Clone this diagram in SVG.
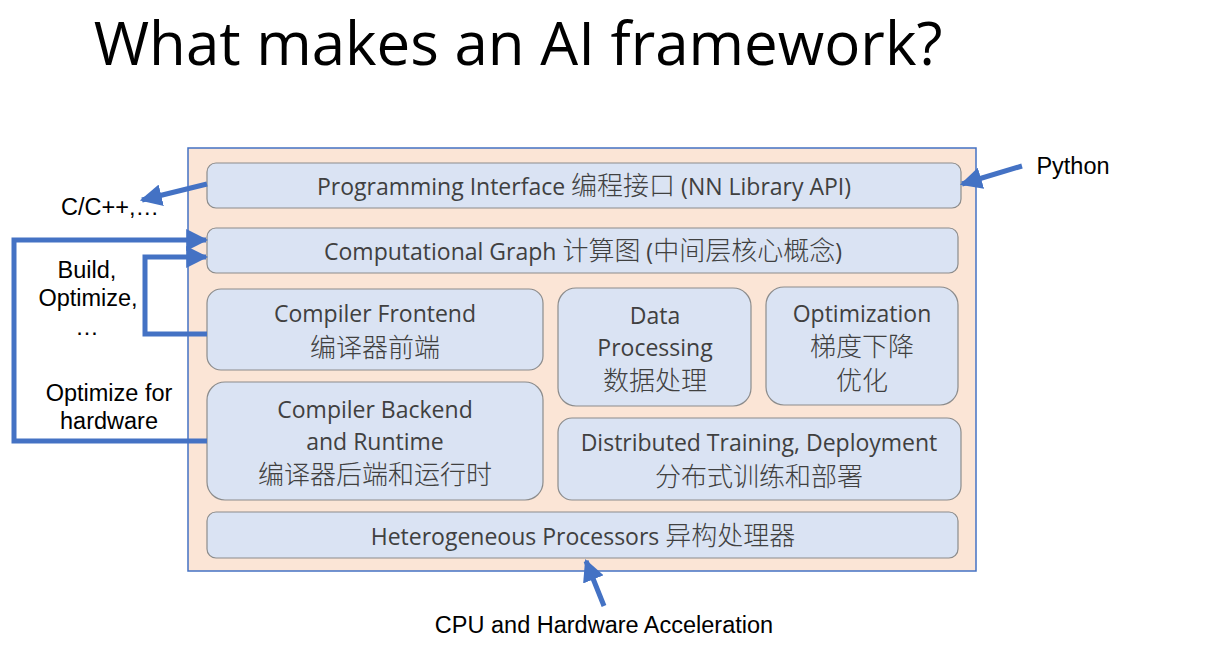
<svg xmlns="http://www.w3.org/2000/svg" width="1206" height="651" viewBox="0 0 1206 651">
<style>
.box{fill:#DAE3F3;stroke:#8C8C8C;stroke-width:1.2}
.t{font-family:"Open Sans","Noto Sans CJK SC",sans-serif;font-size:23px;fill:#404040;text-anchor:middle}
.t .z,.t.z{font-size:26px;font-weight:300}
.l{font-family:"Liberation Sans","Noto Sans CJK SC",sans-serif;font-size:23.5px;fill:#000;text-anchor:middle}
.c{fill:none;stroke:#4472C4;stroke-width:5}
</style>
<defs>
<marker id="ah" viewBox="0 0 10 10" refX="9" refY="5" markerWidth="4.4" markerHeight="4.4" markerUnits="strokeWidth" orient="auto"><path d="M0,0 L10,5 L0,10 z" fill="#4472C4"/></marker>
</defs>
<rect width="1206" height="651" fill="#fff"/>
<text x="518" y="65" font-family="Open Sans, sans-serif" font-size="60" fill="#000" text-anchor="middle">What makes an AI framework?</text>
<g id="frame"><rect x="188" y="148" width="788" height="423" fill="#FBE5D6" stroke="#4472C4" stroke-width="1.5"/></g>
<g id="n-pi"><rect class="box" x="207" y="163" width="754" height="45" rx="9"/><text class="t" x="584" y="195">Programming Interface <tspan class="z">编程接口</tspan> (NN Library API)</text></g>
<g id="n-cg"><rect class="box" x="207" y="228" width="751" height="45" rx="9"/><text class="t" x="583" y="260">Computational Graph <tspan class="z">计算图</tspan> (<tspan class="z">中间层核心概念</tspan>)</text></g>
<g id="n-cf"><rect class="box" x="207" y="289" width="336" height="81" rx="14"/><text class="t" x="375" y="322">Compiler Frontend</text><text class="t z" x="375" y="357">编译器前端</text></g>
<g id="n-dp"><rect class="box" x="558" y="288" width="193" height="118" rx="18"/><text class="t" x="655" y="324">Data</text><text class="t" x="655" y="356">Processing</text><text class="t z" x="655" y="390">数据处理</text></g>
<g id="n-op"><rect class="box" x="766" y="287" width="192" height="118" rx="18"/><text class="t" x="862" y="322">Optimization</text><text class="t z" x="862" y="356">梯度下降</text><text class="t z" x="862" y="390">优化</text></g>
<g id="n-cb"><rect class="box" x="207" y="382" width="336" height="118" rx="18"/><text class="t" x="375" y="418">Compiler Backend</text><text class="t" x="375" y="450">and Runtime</text><text class="t z" x="375" y="484">编译器后端和运行时</text></g>
<g id="n-dt"><rect class="box" x="558" y="418" width="403" height="82" rx="14"/><text class="t" x="759" y="451">Distributed Training, Deployment</text><text class="t z" x="759" y="486">分布式训练和部署</text></g>
<g id="n-hp"><rect class="box" x="207" y="512" width="751" height="46" rx="9"/><text class="t" x="583" y="545">Heterogeneous Processors <tspan class="z">异构处理器</tspan></text></g>
<g id="labels">
<text class="l" x="1073" y="174">Python</text>
<text class="l" x="110" y="215">C/C++,…</text>
<text class="l" x="87" y="278">Build,</text>
<text class="l" x="88" y="306">Optimize,</text>
<text class="l" x="87" y="335">…</text>
<text class="l" x="109" y="401">Optimize for</text>
<text class="l" x="109" y="429">hardware</text>
<text class="l" x="604" y="633">CPU and Hardware Acceleration</text>
</g>
<g id="connectors">
<line class="c" x1="1022" y1="166" x2="962" y2="184" marker-end="url(#ah)"/>
<line class="c" x1="207" y1="184" x2="142" y2="200" marker-end="url(#ah)"/>
<polyline class="c" points="207,441 14,441 14,240 206,240" marker-end="url(#ah)"/>
<polyline class="c" points="207,334 145,334 145,257 206,257" marker-end="url(#ah)"/>
<line class="c" x1="604" y1="606" x2="586" y2="561" marker-end="url(#ah)"/>
</g>
</svg>
